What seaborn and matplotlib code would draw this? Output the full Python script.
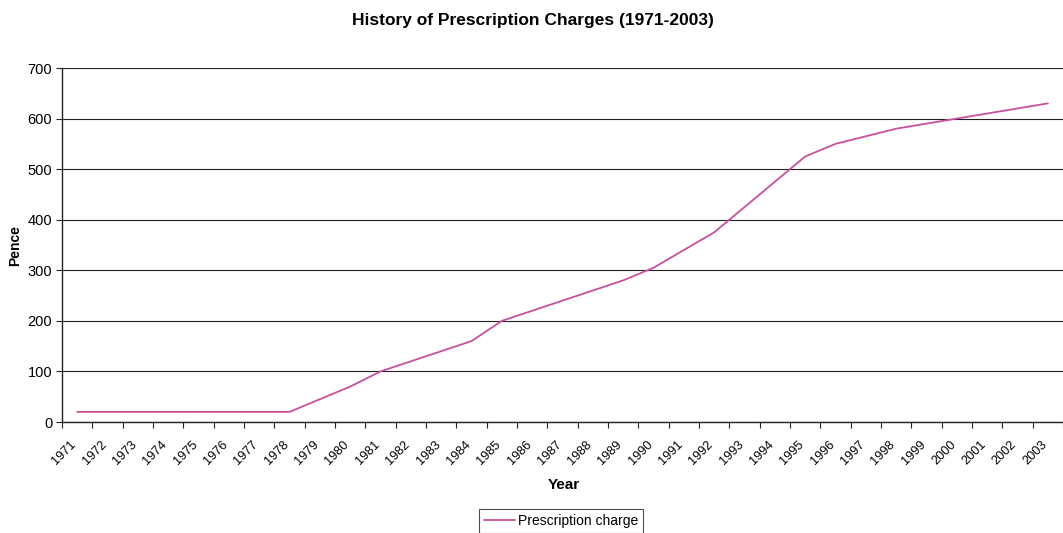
import numpy as np
import pandas as pd
import seaborn as sns
import matplotlib.pyplot as plt
from matplotlib.ticker import FixedLocator
import matplotlib.transforms as mtransforms

# data
years = list(range(1971, 2004))
charge_pence = [20, 20, 20, 20, 20, 20, 20, 20,
                45, 70, 100, 120, 140, 160, 200, 220, 240, 260, 280, 305,
                340, 375, 425, 475, 525, 550, 565, 580, 590, 600, 610, 620, 630]
y_ticks = [0, 100, 200, 300, 400, 500, 600, 700]

df = pd.DataFrame({"idx": np.arange(len(years)), "Year": years, "Pence": charge_pence})

sns.set_style("white")
plt.rcParams["font.family"] = ["Liberation Sans", "DejaVu Sans"]
plt.rcParams["text.color"] = "black"
plt.rcParams["xtick.color"] = "black"
plt.rcParams["ytick.color"] = "black"

fig = plt.figure(figsize=(10.63, 5.33), dpi=100)
ax = fig.add_axes([62 / 1063, 111 / 533, 1 - 62 / 1063, (422 - 68) / 533])

sns.lineplot(data=df, x="idx", y="Pence", ax=ax, color="#C9509C",
             linewidth=1.3, label="Prescription charge")

ax.set_xlim(-0.5, len(years) - 0.5)
ax.set_ylim(0, 700)
ax.set_yticks(y_ticks)
ax.yaxis.grid(True, color="#222222", linewidth=0.8)
ax.xaxis.grid(False)
ax.set_axisbelow(True)

for side in ["top", "right"]:
    ax.spines[side].set_visible(False)
for side in ["left", "bottom"]:
    ax.spines[side].set_color("#222222")
    ax.spines[side].set_linewidth(1.0)

ax.tick_params(axis="y", which="major", length=4, width=0.8, color="#222222",
               labelsize=10.5, pad=3, left=True, labelcolor="black")
ax.set_xticks(df["idx"])
ax.set_xticklabels([str(y) for y in years], rotation=45, ha="right",
                   rotation_mode="anchor", fontsize=9.2, color="black")
ax.tick_params(axis="x", which="major", length=0, pad=6)
ax.xaxis.set_minor_locator(FixedLocator(np.arange(-0.5, len(years), 1.0)))
ax.tick_params(axis="x", which="minor", length=4, width=0.8, color="#222222", bottom=True)

# nudge the rotated year labels so they sit below-left like the original
offset = mtransforms.ScaledTranslation(-7 / 100, -8 / 100, fig.dpi_scale_trans)
for lbl in ax.get_xticklabels():
    lbl.set_transform(lbl.get_transform() + offset)

ax.set_xlabel("")
ax.set_ylabel("")
fig.text(564 / 1063, 1 - 485 / 533, "Year", ha="center", va="center",
         fontsize=11, fontweight="bold")
fig.text(15 / 1063, 1 - 246 / 533, "Pence", ha="center", va="center",
         rotation=90, fontsize=10, fontweight="bold")
fig.text(533 / 1063, 1 - 20 / 533, "History of Prescription Charges (1971-2003)",
         ha="center", va="center", fontsize=12.5, fontweight="bold")

ax.get_legend().remove()
leg = fig.legend(loc="upper center", bbox_to_anchor=(561 / 1063, 1 - 509 / 533),
                 frameon=True, fancybox=False, fontsize=10, handlelength=2.2,
                 handletextpad=0.2, borderpad=0.35, borderaxespad=0)
leg.get_frame().set_edgecolor("#222222")
leg.get_frame().set_linewidth(0.8)

fig.savefig("out.png", dpi=100)
